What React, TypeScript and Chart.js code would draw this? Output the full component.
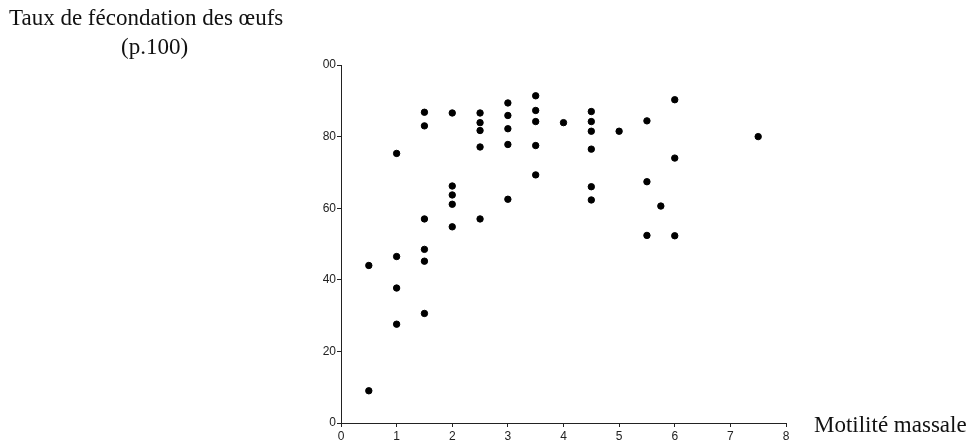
import React, { useEffect, useRef } from "react";
import { Chart, registerables } from "chart.js";

Chart.register(...registerables);

// Motilité massale (x) and Taux de fécondation des œufs, p.100 (y)
const motilite: number[] = [
  0.5, 0.5,
  1, 1, 1, 1,
  1.5, 1.5, 1.5, 1.5, 1.5, 1.5,
  2, 2, 2, 2, 2,
  2.5, 2.5, 2.5, 2.5, 2.5,
  3, 3, 3, 3, 3,
  3.5, 3.5, 3.5, 3.5, 3.5,
  4,
  4.5, 4.5, 4.5, 4.5, 4.5, 4.5,
  5,
  5.5, 5.5, 5.5,
  5.75,
  6, 6, 6,
  7.5,
];
const fecondation: number[] = [
  44, 9,
  75.3, 46.5, 37.7, 27.6,
  86.8, 83, 57, 48.5, 45.2, 30.6,
  86.6, 66.2, 63.7, 61.1, 54.8,
  86.6, 83.9, 81.7, 77.1, 57,
  89.4, 85.9, 82.2, 77.8, 62.5,
  91.4, 87.3, 84.2, 77.5, 69.3,
  83.9,
  87, 84.2, 81.5, 76.5, 66, 62.3,
  81.5,
  84.4, 67.4, 52.4,
  60.6,
  90.3, 74, 52.3,
  80,
];

const xTicks: number[] = [0, 1, 2, 3, 4, 5, 6, 7, 8];
const yTicks: number[] = [0, 20, 40, 60, 80, 100];
const yTickLabels: string[] = ["0", "20", "40", "60", "80", "00"];

const yTitle1 = "Taux de fécondation des œufs";
const yTitle2 = "(p.100)";
const xTitle = "Motilité massale";

export default function App() {
  const canvasRef = useRef<HTMLCanvasElement | null>(null);

  useEffect(() => {
    if (!canvasRef.current) return;
    const points = motilite.map((x, i) => ({ x, y: fecondation[i] }));
    const tickFont = { family: "'Liberation Sans', Arial, sans-serif", size: 12 };
    const chart = new Chart(canvasRef.current, {
      type: "scatter",
      data: {
        datasets: [
          {
            data: points,
            backgroundColor: "#000",
            borderColor: "#000",
            pointRadius: 3.2,
            pointHoverRadius: 3.2,
          },
        ],
      },
      options: {
        animation: false,
        responsive: true,
        maintainAspectRatio: false,
        layout: { padding: { left: 301, right: 190, top: 65, bottom: 0 } },
        plugins: { legend: { display: false }, tooltip: { enabled: false } },
        scales: {
          x: {
            type: "linear",
            min: 0,
            max: 8,
            afterBuildTicks: (scale: any) => {
              scale.ticks = xTicks.map((v) => ({ value: v }));
            },
            afterFit: (scale: any) => {
              scale.height = 20;
            },
            ticks: {
              color: "#222",
              font: tickFont,
              padding: 2,
              maxRotation: 0,
              callback: (v: any) => String(v),
            },
            grid: {
              drawOnChartArea: false,
              drawTicks: true,
              tickLength: 4,
              color: "#222",
            },
            border: { display: true, color: "#222", width: 1 },
          },
          y: {
            type: "linear",
            min: 0,
            max: 100,
            afterBuildTicks: (scale: any) => {
              scale.ticks = yTicks.map((v) => ({ value: v }));
            },
            afterFit: (scale: any) => {
              scale.width = 40;
            },
            ticks: {
              color: "#222",
              font: tickFont,
              padding: 1,
              callback: (v: any) => {
                const idx = yTicks.indexOf(Number(v));
                return idx >= 0 ? yTickLabels[idx] : "";
              },
            },
            grid: {
              drawOnChartArea: false,
              drawTicks: true,
              tickLength: 4,
              color: "#222",
            },
            border: { display: true, color: "#222", width: 1 },
          },
        },
      },
    } as any);
    return () => chart.destroy();
  }, []);

  const serif = "'Liberation Serif', 'Times New Roman', serif";
  const textStyle = {
    position: "absolute" as const,
    fontFamily: serif,
    color: "#111",
    whiteSpace: "nowrap" as const,
    lineHeight: "28px",
  };
  return (
    <div style={{ position: "absolute", left: 0, top: 0, width: 976, height: 443, background: "#fff" }}>
      <canvas ref={canvasRef} />
      <div style={{ ...textStyle, left: 9, top: 4, fontSize: 23 }}>{yTitle1}</div>
      <div style={{ ...textStyle, left: 121, top: 33, fontSize: 23 }}>{yTitle2}</div>
      <div style={{ ...textStyle, left: 814, top: 411, fontSize: 23 }}>{xTitle}</div>
    </div>
  );
}
